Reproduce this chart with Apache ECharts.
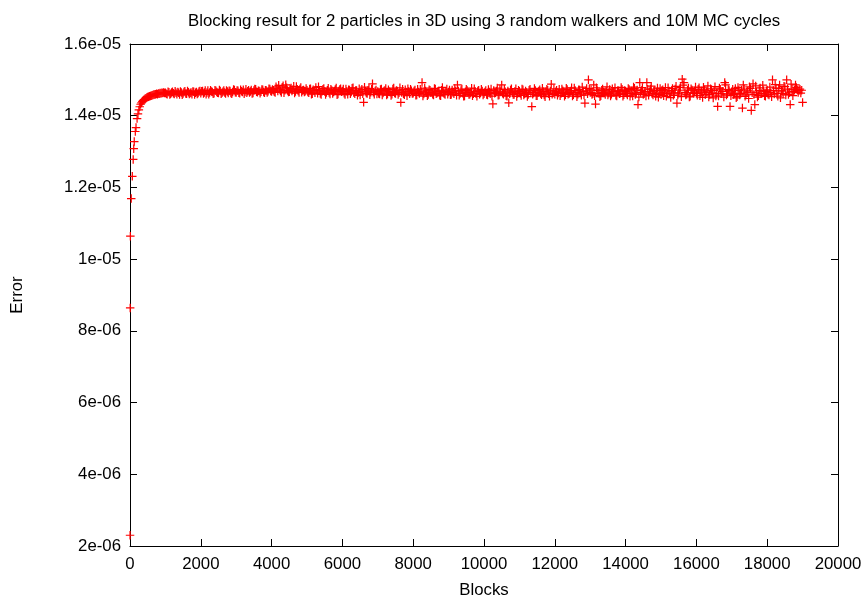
<!DOCTYPE html>
<html>
<head>
<meta charset="utf-8">
<script src="https://cdn.jsdelivr.net/npm/echarts@6/dist/echarts.min.js"></script>
<style>
html,body{margin:0;padding:0;background:#fff;}
#chart{width:868px;height:604px;}
</style>
</head>
<body>
<div id="chart"></div>
<script>
const titleText = 'Blocking result for 2 particles in 3D using 3 random walkers and 10M MC cycles';
const xAxisName = 'Blocks';
const yAxisName = 'Error';
const xTickLabels = ['0','2000','4000','6000','8000','10000','12000','14000','16000','18000','20000'];
const yTickLabels = ['2e-06','4e-06','6e-06','8e-06','1e-05','1.2e-05','1.4e-05','1.6e-05'];

// block sizes (x)
const blocks = [
  1,5,10,35,65,90,105,120,150,170,200,225,250,275,300,325,350,375,400,425,450,475,500,525,550,575,600,625,650,675,700,725,750,775,800,825,850,875,900,925,950,975,
  1000,1050,1100,1150,1200,1250,1300,1350,1400,1450,1500,1550,1600,1650,1700,1750,1800,1850,1900,1950,
  2000,2050,2100,2150,2200,2250,2300,2350,2400,2450,2500,2550,2600,2650,2700,2750,2800,2850,2900,2950,
  3000,3050,3100,3150,3200,3250,3300,3350,3400,3450,3500,3550,3600,3650,3700,3750,3800,3850,3900,3950,
  4000,4050,4100,4150,4200,4250,4300,4350,4400,4450,4500,4550,4600,4650,4700,4750,4800,4850,4900,4950,
  5000,5050,5100,5150,5200,5250,5300,5350,5400,5450,5500,5550,5600,5650,5700,5750,5800,5850,5900,5950,
  6000,6050,6100,6150,6200,6250,6300,6350,6400,6450,6500,6550,6600,6650,6700,6750,6800,6850,6900,6950,
  7000,7050,7100,7150,7200,7250,7300,7350,7400,7450,7500,7550,7600,7650,7700,7750,7800,7850,7900,7950,
  8000,8050,8100,8150,8200,8250,8300,8350,8400,8450,8500,8550,8600,8650,8700,8750,8800,8850,8900,8950,
  9000,9050,9100,9150,9200,9250,9300,9350,9400,9450,9500,9550,9600,9650,9700,9750,9800,9850,9900,9950,
  10000,10050,10100,10150,10200,10250,10300,10350,10400,10450,10500,10550,10600,10650,10700,10750,10800,10850,10900,10950,
  11000,11050,11100,11150,11200,11250,11300,11350,11400,11450,11500,11550,11600,11650,11700,11750,11800,11850,11900,11950,
  12000,12050,12100,12150,12200,12250,12300,12350,12400,12450,12500,12550,12600,12650,12700,12750,12800,12850,12900,12950,
  13000,13050,13100,13150,13200,13250,13300,13350,13400,13450,13500,13550,13600,13650,13700,13750,13800,13850,13900,13950,
  14000,14050,14100,14150,14200,14250,14300,14350,14400,14450,14500,14550,14600,14650,14700,14750,14800,14850,14900,14950,
  15000,15050,15100,15150,15200,15250,15300,15350,15400,15450,15500,15550,15600,15650,15700,15750,15800,15850,15900,15950,
  16000,16050,16100,16150,16200,16250,16300,16350,16400,16450,16500,16550,16600,16650,16700,16750,16800,16850,16900,16950,
  17000,17050,17100,17150,17200,17250,17300,17350,17400,17450,17500,17550,17600,17650,17700,17750,17800,17850,17900,17950,
  18000,18050,18100,18150,18200,18250,18300,18350,18400,18450,18500,18550,18600,18650,18700,18750,18800,18850,18900,18950,
  19000,
  1025,1075,1125,1175,1225,1275,1325,1375,1425,1475,1525,1575,1625,1675,1725,1775,1825,1875,1925,1975,
  2025,2075,2125,2175,2225,2275,2325,2375,2425,2475,2525,2575,2625,2675,2725,2775,2825,2875,2925,2975,
  3025,3075,3125,3175,3225,3275,3325,3375,3425,3475,3525,3575,3625,3675,3725,3775,3825,3875,3925,3975,
  4025,4075,4125,4175,4225,4275,4325,4375,4425,4475,4525,4575,4625,4675,4725,4775,4825,4875,4925,4975,
  5025,5075,5125,5175,5225,5275,5325,5375,5425,5475,5525,5575,5625,5675,5725,5775,5825,5875,5925,5975,
  6025,6075,6125,6175,6225,6275,6325,6375,6425,6475,6525,6575,6625,6675,6725,6775,6825,6875,6925,6975,
  7025,7075,7125,7175,7225,7275,7325,7375,7425,7475,7525,7575,7625,7675,7725,7775,7825,7875,7925,7975,
  8025,8075,8125,8175,8225,8275,8325,8375,8425,8475,8525,8575,8625,8675,8725,8775,8825,8875,8925,8975,
  9025,9075,9125,9175,9225,9275,9325,9375,9425,9475,9525,9575,9625,9675,9725,9775,9825,9875,9925,9975,
  10025,10075,10125,10175,10225,10275,10325,10375,10425,10475,10525,10575,10625,10675,10725,10775,10825,10875,10925,10975,
  11025,11075,11125,11175,11225,11275,11325,11375,11425,11475,11525,11575,11625,11675,11725,11775,11825,11875,11925,11975,
  12025,12075,12125,12175,12225,12275,12325,12375,12425,12475,12525,12575,12625,12675,12725,12775,12825,12875,12925,12975,
  13025,13075,13125,13175,13225,13275,13325,13375,13425,13475,13525,13575,13625,13675,13725,13775,13825,13875,13925,13975,
  14025,14075,14125,14175,14225,14275,14325,14375,14425,14475,14525,14575,14625,14675,14725,14775,14825,14875,14925,14975,
  15025,15075,15125,15175,15225,15275,15325,15375,15425,15475,15525,15575,15625,15675,15725,15775,15825,15875,15925,15975,
  16025,16075,16125,16175,16225,16275,16325,16375,16425,16475,16525,16575,16625,16675,16725,16775,16825,16875,16925,16975,
  17025,17075,17125,17175,17225,17275,17325,17375,17425,17475,17525,17575,17625,17675,17725,17775,17825,17875,17925,17975,
  18025,18075,18125,18175,18225,18275,18325,18375,18425,18475,18525,18575,18625,18675,18725,18775,18825,18875,18925,18975
];

// error estimates (y)
const errors = [
  2.30e-6,8.64e-6,1.064e-5,1.169e-5,1.231e-5,1.278e-5,1.308e-5,1.328e-5,1.356e-5,1.367e-5,1.392e-5,1.405e-5,1.416e-5,1.425e-5,1.432e-5,1.436e-5,1.440e-5,1.443e-5,1.445e-5,1.447e-5,1.449e-5,1.451e-5,1.452e-5,1.453e-5,1.454e-5,1.455e-5,1.456e-5,1.457e-5,1.458e-5,1.459e-5,1.459e-5,1.460e-5,1.461e-5,1.460e-5,1.462e-5,1.461e-5,1.463e-5,1.462e-5,1.464e-5,1.463e-5,1.465e-5,1.463e-5,
  1.4640e-5,1.4598e-5,1.4652e-5,1.4615e-5,1.4671e-5,1.4603e-5,1.4638e-5,1.4660e-5,1.4590e-5,1.4645e-5,1.4622e-5,1.4681e-5,1.4610e-5,1.4655e-5,1.4632e-5,1.4596e-5,1.4669e-5,1.4641e-5,1.4608e-5,1.4676e-5,
  1.4628e-5,1.4690e-5,1.4650e-5,1.4602e-5,1.4702e-5,1.4644e-5,1.4672e-5,1.4615e-5,1.4711e-5,1.4658e-5,1.4630e-5,1.4688e-5,1.4641e-5,1.4705e-5,1.4620e-5,1.4675e-5,1.4695e-5,1.4633e-5,1.4662e-5,1.4718e-5,
  1.4645e-5,1.4698e-5,1.4628e-5,1.4685e-5,1.4721e-5,1.4660e-5,1.4640e-5,1.4712e-5,1.4676e-5,1.4618e-5,1.4700e-5,1.4735e-5,1.4652e-5,1.4690e-5,1.4668e-5,1.4726e-5,1.4637e-5,1.4703e-5,1.4681e-5,1.4744e-5,
  1.4675e-5,1.4712e-5,1.4650e-5,1.4760e-5,1.4848e-5,1.4688e-5,1.4795e-5,1.4640e-5,1.4862e-5,1.4702e-5,1.4668e-5,1.4770e-5,1.4721e-5,1.4633e-5,1.4812e-5,1.4690e-5,1.4745e-5,1.4652e-5,1.4718e-5,1.4680e-5,
  1.4712e-5,1.4640e-5,1.4755e-5,1.4615e-5,1.4690e-5,1.4790e-5,1.4628e-5,1.4700e-5,1.4592e-5,1.4738e-5,1.4672e-5,1.4645e-5,1.4768e-5,1.4606e-5,1.4705e-5,1.4660e-5,1.4730e-5,1.4585e-5,1.4688e-5,1.4752e-5,
  1.4690e-5,1.4625e-5,1.4742e-5,1.4598e-5,1.4715e-5,1.4660e-5,1.4778e-5,1.4610e-5,1.4702e-5,1.4648e-5,1.4580e-5,1.4735e-5,1.4375e-5,1.4685e-5,1.4620e-5,1.4760e-5,1.4655e-5,1.4890e-5,1.4598e-5,1.4720e-5,
  1.4672e-5,1.4605e-5,1.4748e-5,1.4630e-5,1.4700e-5,1.4575e-5,1.4725e-5,1.4652e-5,1.4598e-5,1.4770e-5,1.4618e-5,1.4690e-5,1.4640e-5,1.4370e-5,1.4735e-5,1.4588e-5,1.4662e-5,1.4752e-5,1.4610e-5,1.4695e-5,
  1.4628e-5,1.4715e-5,1.4580e-5,1.4660e-5,1.4740e-5,1.4925e-5,1.4605e-5,1.4690e-5,1.4555e-5,1.4725e-5,1.4640e-5,1.4598e-5,1.4762e-5,1.4615e-5,1.4680e-5,1.4570e-5,1.4710e-5,1.4650e-5,1.4592e-5,1.4745e-5,
  1.4660e-5,1.4585e-5,1.4720e-5,1.4612e-5,1.4690e-5,1.4860e-5,1.4570e-5,1.4700e-5,1.4628e-5,1.4552e-5,1.4735e-5,1.4645e-5,1.4598e-5,1.4768e-5,1.4610e-5,1.4675e-5,1.4540e-5,1.4712e-5,1.4632e-5,1.4690e-5,
  1.4615e-5,1.4702e-5,1.4580e-5,1.4660e-5,1.4745e-5,1.4330e-5,1.4625e-5,1.4690e-5,1.4572e-5,1.4738e-5,1.4860e-5,1.4600e-5,1.4668e-5,1.4545e-5,1.4360e-5,1.4720e-5,1.4642e-5,1.4590e-5,1.4755e-5,1.4618e-5,
  1.4680e-5,1.4565e-5,1.4725e-5,1.4610e-5,1.4650e-5,1.4592e-5,1.4740e-5,1.4256e-5,1.4635e-5,1.4700e-5,1.4555e-5,1.4690e-5,1.4620e-5,1.4768e-5,1.4578e-5,1.4665e-5,1.4712e-5,1.4540e-5,1.4880e-5,1.4630e-5,
  1.4598e-5,1.4712e-5,1.4630e-5,1.4560e-5,1.4745e-5,1.4660e-5,1.4585e-5,1.4730e-5,1.4615e-5,1.4690e-5,1.4548e-5,1.4770e-5,1.4642e-5,1.4600e-5,1.4718e-5,1.4572e-5,1.4675e-5,1.4350e-5,1.4760e-5,1.5000e-5,
  1.4650e-5,1.4590e-5,1.4860e-5,1.4324e-5,1.4705e-5,1.4618e-5,1.4560e-5,1.4748e-5,1.4635e-5,1.4690e-5,1.4575e-5,1.4728e-5,1.4602e-5,1.4665e-5,1.4782e-5,1.4550e-5,1.4695e-5,1.4628e-5,1.4740e-5,1.4588e-5,
  1.4680e-5,1.4575e-5,1.4730e-5,1.4620e-5,1.4552e-5,1.4765e-5,1.4640e-5,1.4310e-5,1.4925e-5,1.4700e-5,1.4595e-5,1.4680e-5,1.4925e-5,1.4568e-5,1.4742e-5,1.4615e-5,1.4688e-5,1.4540e-5,1.4770e-5,1.4632e-5,
  1.4590e-5,1.4725e-5,1.4655e-5,1.4540e-5,1.4780e-5,1.4610e-5,1.4700e-5,1.4568e-5,1.4745e-5,1.4350e-5,1.4632e-5,1.4790e-5,1.5019e-5,1.4925e-5,1.4580e-5,1.4712e-5,1.4525e-5,1.4755e-5,1.4640e-5,1.4690e-5,
  1.4620e-5,1.4735e-5,1.4560e-5,1.4690e-5,1.4795e-5,1.4585e-5,1.4660e-5,1.4520e-5,1.4750e-5,1.4630e-5,1.4705e-5,1.4548e-5,1.4260e-5,1.4770e-5,1.4610e-5,1.4680e-5,1.4925e-5,1.4575e-5,1.4728e-5,1.4260e-5,
  1.4665e-5,1.4590e-5,1.4760e-5,1.4530e-5,1.4700e-5,1.4625e-5,1.4214e-5,1.4745e-5,1.4580e-5,1.4690e-5,1.4805e-5,1.4147e-5,1.4890e-5,1.4310e-5,1.4655e-5,1.4560e-5,1.4775e-5,1.4618e-5,1.4700e-5,1.4540e-5,
  1.4720e-5,1.4580e-5,1.4650e-5,1.5000e-5,1.4605e-5,1.4770e-5,1.4545e-5,1.4860e-5,1.4690e-5,1.4620e-5,1.4810e-5,1.5000e-5,1.4590e-5,1.4310e-5,1.4740e-5,1.4680e-5,1.4860e-5,1.4720e-5,1.4700e-5,1.4630e-5,
  1.4370e-5,
  1.4612e-5,1.4668e-5,1.4590e-5,1.4650e-5,1.4628e-5,1.4685e-5,1.4600e-5,1.4642e-5,1.4672e-5,1.4585e-5,1.4658e-5,1.4620e-5,1.4690e-5,1.4605e-5,1.4645e-5,1.4678e-5,1.4595e-5,1.4662e-5,1.4630e-5,1.4688e-5,
  1.4680e-5,1.4620e-5,1.4700e-5,1.4645e-5,1.4598e-5,1.4712e-5,1.4660e-5,1.4625e-5,1.4695e-5,1.4640e-5,1.4720e-5,1.4610e-5,1.4670e-5,1.4650e-5,1.4705e-5,1.4635e-5,1.4688e-5,1.4612e-5,1.4728e-5,1.4655e-5,
  1.4702e-5,1.4640e-5,1.4725e-5,1.4662e-5,1.4615e-5,1.4738e-5,1.4680e-5,1.4650e-5,1.4715e-5,1.4632e-5,1.4748e-5,1.4670e-5,1.4695e-5,1.4625e-5,1.4730e-5,1.4660e-5,1.4708e-5,1.4645e-5,1.4752e-5,1.4688e-5,
  1.4730e-5,1.4665e-5,1.4805e-5,1.4690e-5,1.4740e-5,1.4650e-5,1.4835e-5,1.4712e-5,1.4780e-5,1.4660e-5,1.4755e-5,1.4690e-5,1.4820e-5,1.4672e-5,1.4735e-5,1.4648e-5,1.4790e-5,1.4700e-5,1.4660e-5,1.4760e-5,
  1.4660e-5,1.4745e-5,1.4600e-5,1.4722e-5,1.4640e-5,1.4700e-5,1.4810e-5,1.4620e-5,1.4685e-5,1.4760e-5,1.4595e-5,1.4710e-5,1.4650e-5,1.4735e-5,1.4618e-5,1.4690e-5,1.4775e-5,1.4605e-5,1.4728e-5,1.4665e-5,
  1.4745e-5,1.4590e-5,1.4680e-5,1.4725e-5,1.4615e-5,1.4768e-5,1.4640e-5,1.4700e-5,1.4570e-5,1.4750e-5,1.4665e-5,1.4610e-5,1.4795e-5,1.4630e-5,1.4712e-5,1.4585e-5,1.4740e-5,1.4655e-5,1.4690e-5,1.4605e-5,
  1.4620e-5,1.4730e-5,1.4580e-5,1.4690e-5,1.4760e-5,1.4605e-5,1.4670e-5,1.4565e-5,1.4742e-5,1.4635e-5,1.4700e-5,1.4590e-5,1.4780e-5,1.4648e-5,1.4612e-5,1.4725e-5,1.4560e-5,1.4685e-5,1.4740e-5,1.4620e-5,
  1.4690e-5,1.4570e-5,1.4735e-5,1.4620e-5,1.4665e-5,1.4548e-5,1.4770e-5,1.4640e-5,1.4595e-5,1.4712e-5,1.4660e-5,1.4575e-5,1.4745e-5,1.4630e-5,1.4690e-5,1.4555e-5,1.4788e-5,1.4612e-5,1.4680e-5,1.4598e-5,
  1.4720e-5,1.4595e-5,1.4648e-5,1.4760e-5,1.4570e-5,1.4690e-5,1.4620e-5,1.4742e-5,1.4545e-5,1.4668e-5,1.4705e-5,1.4590e-5,1.4640e-5,1.4560e-5,1.4752e-5,1.4615e-5,1.4688e-5,1.4600e-5,1.4735e-5,1.4575e-5,
  1.4660e-5,1.4590e-5,1.4728e-5,1.4615e-5,1.4545e-5,1.4700e-5,1.4640e-5,1.4770e-5,1.4580e-5,1.4660e-5,1.4625e-5,1.4735e-5,1.4560e-5,1.4690e-5,1.4612e-5,1.4752e-5,1.4595e-5,1.4680e-5,1.4538e-5,1.4710e-5,
  1.4620e-5,1.4745e-5,1.4580e-5,1.4690e-5,1.4535e-5,1.4710e-5,1.4650e-5,1.4598e-5,1.4762e-5,1.4560e-5,1.4642e-5,1.4725e-5,1.4585e-5,1.4670e-5,1.4530e-5,1.4740e-5,1.4612e-5,1.4690e-5,1.4600e-5,1.4752e-5,
  1.4665e-5,1.4570e-5,1.4740e-5,1.4620e-5,1.4695e-5,1.4540e-5,1.4768e-5,1.4600e-5,1.4650e-5,1.4780e-5,1.4588e-5,1.4700e-5,1.4532e-5,1.4725e-5,1.4640e-5,1.4800e-5,1.4575e-5,1.4690e-5,1.4615e-5,1.4755e-5,
  1.4722e-5,1.4615e-5,1.4560e-5,1.4780e-5,1.4640e-5,1.4530e-5,1.4712e-5,1.4660e-5,1.4590e-5,1.4805e-5,1.4625e-5,1.4548e-5,1.4750e-5,1.4680e-5,1.4570e-5,1.4695e-5,1.4610e-5,1.4790e-5,1.4540e-5,1.4705e-5,
  1.4625e-5,1.4760e-5,1.4540e-5,1.4690e-5,1.4800e-5,1.4595e-5,1.4720e-5,1.4520e-5,1.4650e-5,1.4785e-5,1.4612e-5,1.4550e-5,1.4740e-5,1.4665e-5,1.4825e-5,1.4580e-5,1.4705e-5,1.4630e-5,1.4515e-5,1.4760e-5,
  1.4700e-5,1.4560e-5,1.4785e-5,1.4620e-5,1.4690e-5,1.4505e-5,1.4760e-5,1.4640e-5,1.4820e-5,1.4575e-5,1.4710e-5,1.4530e-5,1.4850e-5,1.4650e-5,1.4600e-5,1.4775e-5,1.4545e-5,1.4720e-5,1.4620e-5,1.4800e-5,
  1.4570e-5,1.4780e-5,1.4640e-5,1.4510e-5,1.4720e-5,1.4660e-5,1.4830e-5,1.4590e-5,1.4700e-5,1.4495e-5,1.4810e-5,1.4625e-5,1.4550e-5,1.4740e-5,1.4680e-5,1.4520e-5,1.4860e-5,1.4610e-5,1.4705e-5,1.4560e-5,
  1.4740e-5,1.4620e-5,1.4500e-5,1.4790e-5,1.4580e-5,1.4720e-5,1.4860e-5,1.4540e-5,1.4660e-5,1.4480e-5,1.4760e-5,1.4640e-5,1.4590e-5,1.4830e-5,1.4520e-5,1.4700e-5,1.4610e-5,1.4850e-5,1.4560e-5,1.4680e-5,
  1.4600e-5,1.4800e-5,1.4530e-5,1.4700e-5,1.4870e-5,1.4620e-5,1.4760e-5,1.4500e-5,1.4690e-5,1.4820e-5,1.4580e-5,1.4740e-5,1.4640e-5,1.4880e-5,1.4560e-5,1.4720e-5,1.4790e-5,1.4650e-5,1.4740e-5,1.4710e-5
];

const points = blocks.map((b, i) => [b, errors[i]]);
const plusPath = 'path://M3.85,0h1.3v3.85h3.85v1.3h-3.85v3.85h-1.3v-3.85h-3.85v-1.3h3.85z';
const FONT = '"Liberation Sans", Arial, Helvetica, sans-serif';
const FS = 16.8;

const baseX = {
  type: 'value', min: 0, max: 20000, interval: 2000,
  axisLine: { show: true, onZero: false, lineStyle: { color: '#000', width: 1 } },
  axisTick: { show: true, inside: true, length: 7, lineStyle: { color: '#000', width: 1 } },
  splitLine: { show: false }
};
const baseY = {
  type: 'value', min: 2e-6, max: 1.6e-5, interval: 2e-6,
  axisLine: { show: true, onZero: false, lineStyle: { color: '#000', width: 1 } },
  axisTick: { show: true, inside: true, length: 7, lineStyle: { color: '#000', width: 1 } },
  splitLine: { show: false }
};

const chart = echarts.init(document.getElementById('chart'), null, { renderer: 'canvas' });
chart.setOption({
  animation: false,
  backgroundColor: '#fff',
  title: {
    text: titleText, left: 183, top: 8,
    textStyle: { fontFamily: FONT, fontSize: FS, fontWeight: 'normal', color: '#000' }
  },
  grid: { left: 130, right: 30, top: 44, bottom: 56, containLabel: false },
  xAxis: [
    Object.assign({}, baseX, {
      position: 'bottom',
      name: xAxisName, nameLocation: 'middle', nameGap: 36,
      nameTextStyle: { fontFamily: FONT, fontSize: FS, color: '#000' },
      axisLabel: { show: true, margin: 10, fontFamily: FONT, fontSize: FS, color: '#000',
        formatter: (v, i) => xTickLabels[i] }
    }),
    Object.assign({}, baseX, { position: 'top', axisLabel: { show: false } })
  ],
  yAxis: [
    Object.assign({}, baseY, {
      position: 'left',
      name: yAxisName, nameLocation: 'middle', nameGap: 104, nameRotate: 90,
      nameTextStyle: { fontFamily: FONT, fontSize: FS, color: '#000' },
      axisLabel: { show: true, margin: 9, fontFamily: FONT, fontSize: FS, color: '#000',
        formatter: (v, i) => yTickLabels[i] }
    }),
    Object.assign({}, baseY, { position: 'right', axisLabel: { show: false } })
  ],
  series: [{
    type: 'scatter',
    xAxisIndex: 0, yAxisIndex: 0,
    data: points,
    symbol: plusPath,
    symbolSize: 8.5,
    itemStyle: { color: '#ff0000', opacity: 1 },
    large: false
  }]
});
</script>
</body>
</html>
